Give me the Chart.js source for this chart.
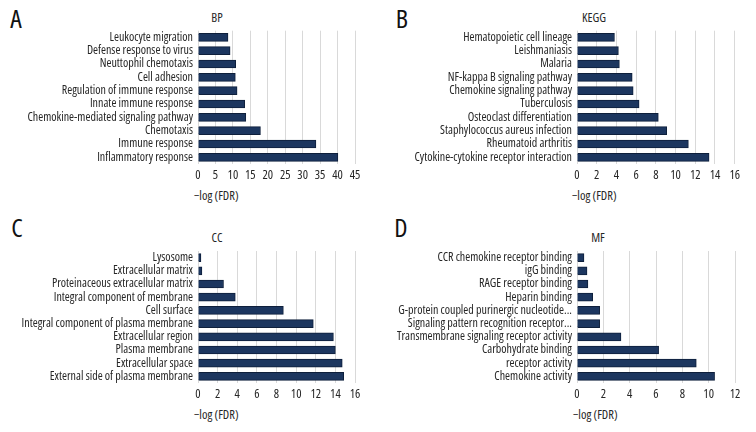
<!DOCTYPE html>
<html>
<head>
<meta charset="utf-8">
<script src="https://cdn.jsdelivr.net/npm/chart.js@4"></script>
<style>
  body { margin: 0; background: #fff; }
  #wrap { position: relative; width: 756px; height: 432px; overflow: hidden;
          font-family: "Open Sans", sans-serif; font-stretch: condensed; color: #262626; }
  .box { position: absolute; }
  .txt { position: absolute; white-space: nowrap; transform: translate(-50%, -50%); font-size: 12.5px; }
  .letter { font-size: 26px; color: #111; }
  .xt { transform: translate(0, -50%); }
</style>
</head>
<body>
<div id="wrap">
  <div class="txt letter" style="left:16px;top:18px">A</div>
  <div class="txt letter" style="left:402px;top:18px">B</div>
  <div class="txt letter" style="left:17px;top:227px">C</div>
  <div class="txt letter" style="left:401px;top:227px">D</div>

  <div class="txt" style="left:217px;top:17px">BP</div>
  <div class="txt" style="left:594px;top:17px">KEGG</div>
  <div class="txt" style="left:217px;top:237px">CC</div>
  <div class="txt" style="left:598px;top:237px">MF</div>

  <div class="txt xt" style="left:194px;top:195px">−log (FDR)</div>
  <div class="txt xt" style="left:572px;top:195px">−log (FDR)</div>
  <div class="txt xt" style="left:194px;top:414px">−log (FDR)</div>
  <div class="txt xt" style="left:573px;top:414px">−log (FDR)</div>

  <div class="box" style="left:0;top:0;width:378px;height:184px"><canvas id="cA"></canvas></div>
  <div class="box" style="left:378px;top:0;width:378px;height:184px"><canvas id="cB"></canvas></div>
  <div class="box" style="left:0;top:210px;width:378px;height:193px"><canvas id="cC"></canvas></div>
  <div class="box" style="left:378px;top:210px;width:378px;height:193px"><canvas id="cD"></canvas></div>
</div>
<script>
// BP
const bpTerms = ['Leukocyte migration', 'Defense response to virus', 'Neuttophil chemotaxis', 'Cell adhesion',
  'Regulation of immune response', 'Innate immune response', 'Chemokine-mediated signaling pathway',
  'Chemotaxis', 'Immune response', 'Inflammatory response'];
const bpValues = [8.6, 9.2, 10.8, 10.7, 11.2, 13.4, 13.7, 17.9, 33.8, 40.1];

// KEGG
const keggTerms = ['Hematopoietic cell lineage', 'Leishmaniasis', 'Malaria', 'NF-kappa B signaling pathway',
  'Chemokine signaling pathway', 'Tuberculosis', 'Osteoclast differentiation',
  'Staphylococcus aureus infection', 'Rheumatoid arthritis', 'Cytokine-cytokine receptor interaction'];
const keggValues = [3.8, 4.2, 4.3, 5.6, 5.7, 6.3, 8.25, 9.1, 11.3, 13.4];

// CC
const ccTerms = ['Lysosome', 'Extracellular matrix', 'Proteinaceous extracellular matrix',
  'Integral component of membrane', 'Cell surface', 'Integral component of plasma membrane',
  'Extracellular region', 'Plasma membrane', 'Extracellular space', 'External side of plasma membrane'];
const ccValues = [0.3, 0.4, 2.6, 3.8, 8.7, 11.75, 13.8, 14.0, 14.7, 14.85];

// MF
const mfTerms = ['CCR chemokine receptor binding', 'igG binding', 'RAGE receptor binding', 'Heparin binding',
  'G-protein coupled purinergic nucleotide...', 'Signaling pattern recognition receptor...',
  'Transmembrane signaling receptor activity', 'Carbohydrate binding', 'receptor activity', 'Chemokine activity'];
const mfValues = [0.53, 0.76, 0.83, 1.19, 1.72, 1.72, 3.34, 6.2, 9.06, 10.45];

// 'condensed' goes in the weight slot so the canvas font string picks the narrow width of Open Sans
const labelFont = { family: '"Open Sans"', size: 12, weight: 'condensed' };
const tickFont = { family: '"Open Sans"', size: 12.5, weight: 'condensed' };

// draw one horizontal bar panel
function makePanel(id, labels, values, xMax, step, yWidth, padTop, padRight) {
  new Chart(document.getElementById(id), {
    type: 'bar',
    data: {
      labels: labels,
      datasets: [{
        data: values,
        backgroundColor: '#1c365f',
        borderColor: '#0e1f3b',
        borderWidth: 1,
        barThickness: 8
      }]
    },
    options: {
      indexAxis: 'y',
      responsive: true,
      maintainAspectRatio: false,
      animation: false,
      layout: { padding: { top: padTop, right: padRight, left: 0, bottom: 0 } },
      plugins: { legend: { display: false }, tooltip: { enabled: false } },
      scales: {
        x: {
          min: 0, max: xMax,
          ticks: { stepSize: step, color: '#262626', padding: 4, maxRotation: 0, autoSkip: false, font: tickFont },
          grid: { color: '#d9d9d9', drawTicks: false },
          border: { display: false },
          afterFit: function(scale) { scale.height = 20; }
        },
        y: {
          ticks: { color: '#262626', padding: 5, autoSkip: false, font: labelFont },
          grid: { display: false, drawTicks: false },
          border: { display: false },
          afterFit: function(scale) { scale.width = yWidth; }
        }
      }
    }
  });
}

makePanel('cA', bpTerms, bpValues, 45, 5, 198, 30.7, 23);
makePanel('cB', keggTerms, keggValues, 16, 2, 199, 30.7, 21.3);
makePanel('cC', ccTerms, ccValues, 16, 2, 198, 41, 23);
makePanel('cD', mfTerms, mfValues, 12, 2, 199, 41, 21);
</script>
</body>
</html>
